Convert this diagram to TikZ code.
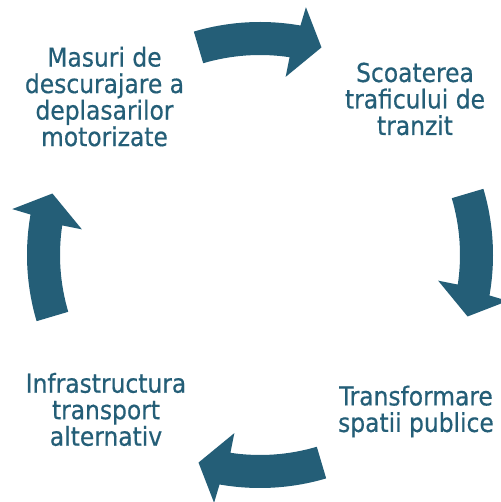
\documentclass[tikz,border=0pt]{standalone}
\usepackage{fontspec}
\setmainfont{DejaVu Sans Condensed}[FakeBold=0.5]
\definecolor{cycleblue}{HTML}{245E77}

\begin{document}
\begin{tikzpicture}[x=1pt, y=1pt, cyclearrow/.style={fill=cycleblue}, steptext/.style={text=cycleblue, align=center, inner sep=0pt, font=\fontsize{26}{26.5}\selectfont}]
			\useasboundingbox (-260,-247) rectangle (240,255);
			% four curved arrows round the circle, clockwise
			\foreach \c in {90,0,-90,180}
				\fill[cyclearrow] ({\c+16.5}:233) arc[start angle=\c+16.5, end angle=\c-10, radius=233] -- ({\c-10.5}:252) -- ({\c-16.5}:216.5) -- ({\c-8.2}:180) -- ({\c-8.5}:200) arc[start angle=\c-8.5, end angle=\c+16.5, radius=200] -- cycle;
			\node[steptext] (masuri) at (-155.5,158.4) {Masuri de\\descurajare a\\deplasarilor\\motorizate};
			\node[steptext] (scoaterea) at (155,156) {Scoaterea\\traficului de\\tranzit};
			\node[steptext] (transformare) at (156,-156.5) {Transformare\\spatii publice};
			\node[steptext] (infrastructura) at (-154,-154.5) {Infrastructura\\transport\\alternativ};
			\end{tikzpicture}
\end{document}
